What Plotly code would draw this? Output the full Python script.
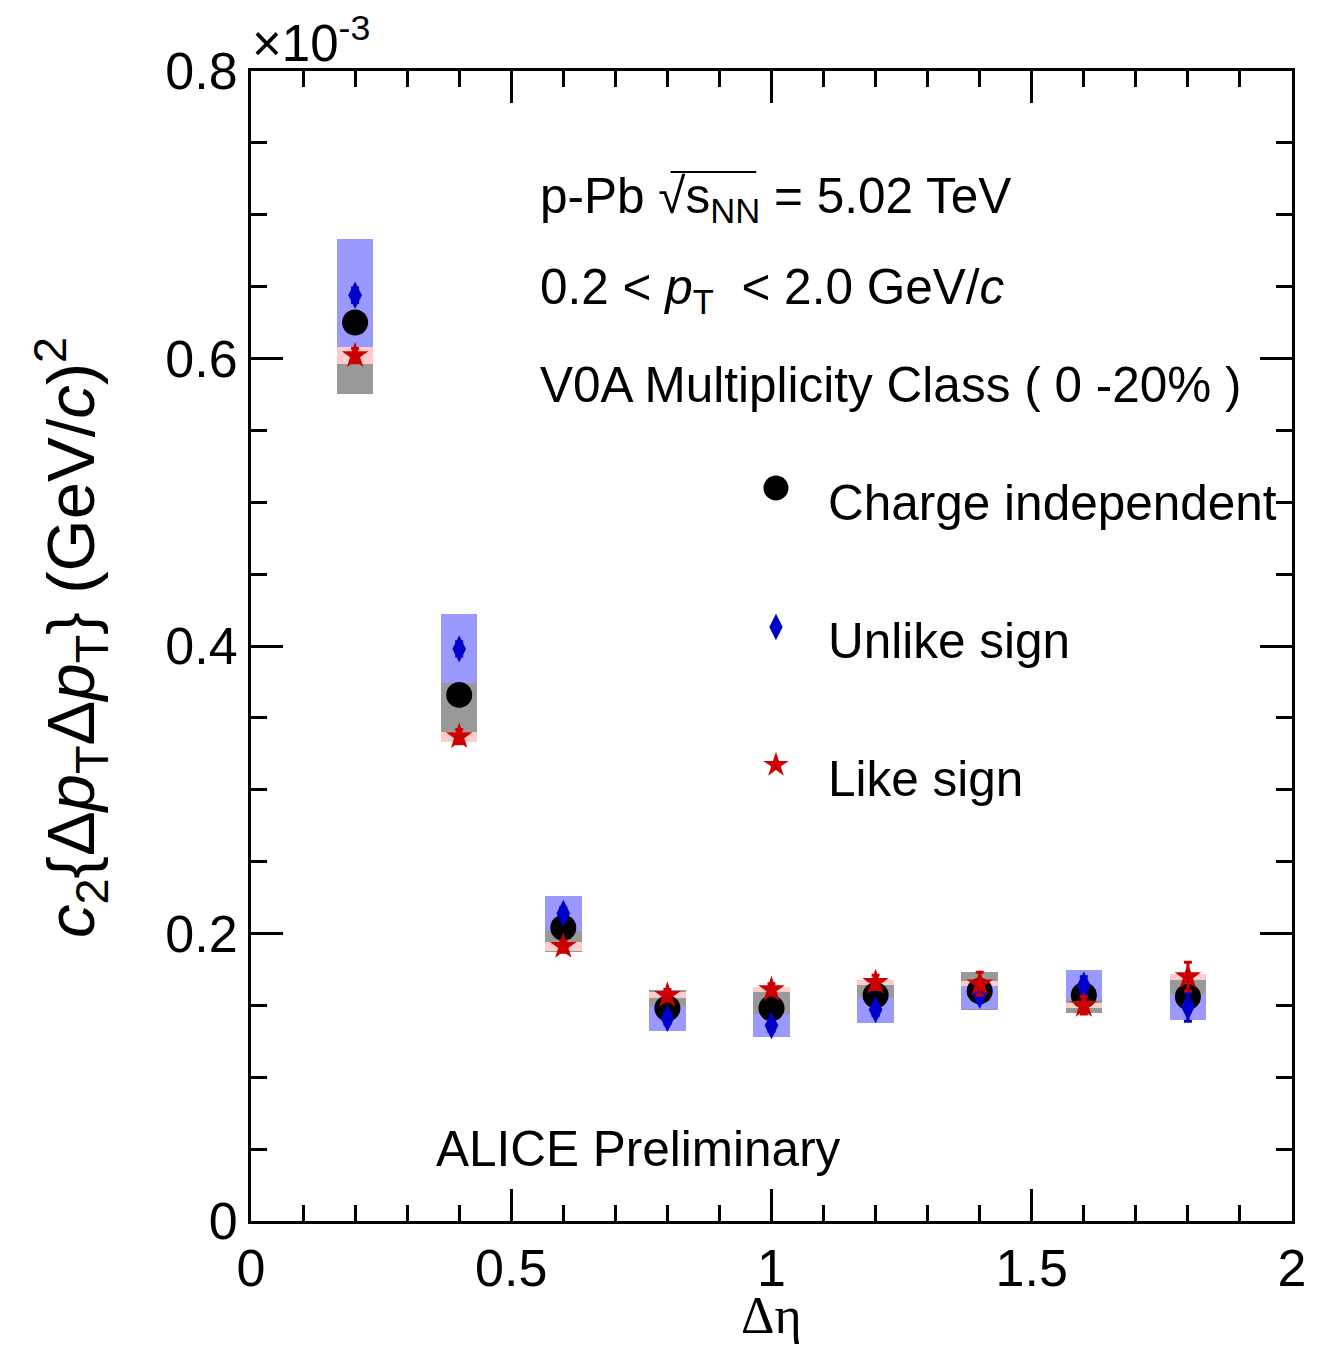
import plotly.graph_objects as go

# ---------------- data (c2 values in units of 1e-3 (GeV/c)^2) ----------------
deta = [0.2, 0.4, 0.6, 0.8, 1.0, 1.2, 1.4, 1.6, 1.8]

ci_val = [0.625, 0.366, 0.204, 0.148, 0.148, 0.157, 0.160, 0.157, 0.156]
ci_sys = [0.050, 0.029, 0.017, 0.0125, 0.011, 0.009, 0.013, 0.0125, 0.0125]
ci_stat = [0.004, 0.004, 0.003, 0.003, 0.003, 0.003, 0.004, 0.004, 0.005]

us_val = [0.644, 0.398, 0.214, 0.141, 0.136, 0.147, 0.157, 0.164, 0.149]
us_sys = [0.039, 0.024, 0.012, 0.0087, 0.0083, 0.009, 0.0097, 0.0104, 0.009]
us_stat = [0.005, 0.005, 0.004, 0.004, 0.004, 0.004, 0.005, 0.006, 0.010]

ls_val = [0.602, 0.337, 0.191, 0.157, 0.161, 0.166, 0.165, 0.150, 0.170]
ls_sys = [0.006, 0.0035, 0.003, 0.002, 0.0017, 0.0017, 0.0017, 0.0017, 0.002]
ls_stat = [0.005, 0.005, 0.004, 0.004, 0.004, 0.005, 0.008, 0.006, 0.010]

series_names = ["Charge independent", "Unlike sign", "Like sign"]
x_ticks = [0, 0.5, 1, 1.5, 2]
x_ticklabels = ["0", "0.5", "1", "1.5", "2"]
y_ticks = [0, 0.2, 0.4, 0.6, 0.8]
y_ticklabels = ["0", "0.2", "0.4", "0.6", "0.8"]

# ---------------- layout geometry ----------------
W, H = 1318, 1346
ML, MR, MT, MB = 251, 20, 71, 125
PW, PH = W - ML - MR, H - MT - MB
FONT = "Liberation Sans, Arial, Helvetica, sans-serif"
FS = 49.5
TICK_FS = 52


def px(x):
    return (x - ML) / PW


def py(y):
    return (H - MB - y) / PH


BOX_HALF_W = 0.035
C_GRAY, C_BLUEBOX, C_PINK = "#999999", "#9999ff", "#ffcccc"
C_BLUE, C_RED = "#0000cc", "#cc0000"

fig = go.Figure()


def sys_box(vals, errs, color):
    fig.add_trace(go.Bar(
        x=deta, y=[2 * e for e in errs], base=[v - e for v, e in zip(vals, errs)],
        width=2 * BOX_HALF_W, marker=dict(color=color, line=dict(width=0)),
        opacity=1, showlegend=False, hoverinfo="skip"))


sys_box(ci_val, ci_sys, C_GRAY)
sys_box(us_val, us_sys, C_BLUEBOX)
sys_box(ls_val, ls_sys, C_PINK)


def points(vals, stat, color, symbol, size):
    fig.add_trace(go.Scatter(
        x=deta, y=vals, mode="markers",
        marker=dict(color=color, symbol=symbol, size=size, opacity=1, line=dict(width=0)),
        error_y=dict(type="data", array=stat, color=color, thickness=3, width=4),
        showlegend=False, hoverinfo="skip"))


points(ci_val, ci_stat, "black", "circle", 26)
points(us_val, us_stat, C_BLUE, "diamond-tall", 19.5)
points(ls_val, ls_stat, C_RED, "star", 20)

# legend markers on an invisible overlay axis spanning the plot area (0..1)
leg_px_x = 779
leg_px_y = [488, 627, 765]
leg_txt_y = [502, 640, 778]
fig.add_trace(go.Scatter(
    x=[px(leg_px_x)] * 3, y=[py(v) for v in leg_px_y], xaxis="x2", yaxis="y2",
    mode="markers",
    marker=dict(color=["black", C_BLUE, C_RED], symbol=["circle", "diamond-tall", "star"],
                size=[25, 19, 19], opacity=1, line=dict(width=0)),
    showlegend=False, hoverinfo="skip", cliponaxis=False))

axis_common = dict(
    showline=True, linewidth=3, linecolor="black", mirror="allticks",
    ticks="inside", ticklen=32, tickwidth=3, tickcolor="black",
    showgrid=False, zeroline=False,
    tickfont=dict(family=FONT, size=TICK_FS, color="black"),
)

fig.update_layout(
    width=W, height=H,
    margin=dict(l=ML, r=MR, t=MT, b=MB, pad=0),
    paper_bgcolor="white", plot_bgcolor="white",
    barmode="overlay", bargap=0,
    showlegend=False,
    xaxis=dict(range=[0, 2], tickvals=x_ticks, ticktext=x_ticklabels,
               minor=dict(dtick=0.1, ticklen=16, tickwidth=3, tickcolor="black", ticks="inside"),
               **axis_common),
    yaxis=dict(range=[0, 0.8], tickvals=y_ticks, ticktext=y_ticklabels,
               minor=dict(dtick=0.05, ticklen=16, tickwidth=3, tickcolor="black", ticks="inside"),
               **axis_common),
    xaxis2=dict(range=[0, 1], overlaying="x", visible=False, fixedrange=True),
    yaxis2=dict(range=[0, 1], overlaying="y", visible=False, fixedrange=True),
)

ann = []


def text(x, y, s, size=FS, xanchor="left", family=FONT, angle=0, yanchor="middle"):
    ann.append(dict(x=px(x), y=py(y), xref="paper", yref="paper", text=s, showarrow=False,
                    xanchor=xanchor, yanchor=yanchor, textangle=angle,
                    font=dict(family=family, size=size, color="black")))


text(540, 199, "p-Pb √s<sub>NN</sub> = 5.02 TeV")
text(540, 290, "0.2 &lt; <i>p</i><sub>T</sub>&nbsp; &lt; 2.0 GeV/<i>c</i>")
text(540, 384, "V0A Multiplicity Class ( 0 -20% )")
for name, yy in zip(series_names, leg_txt_y):
    text(829, yy, name)
text(435, 1148, "ALICE Preliminary")
text(250, 40, "×10<sup>-3</sup>", size=51)
text(775, 1346, "Δη", size=52, xanchor="center", yanchor="bottom",
     family="Liberation Serif, Times New Roman, serif")
text(70, 638, "<i>c</i><sub>2</sub>{Δ<i>p</i><sub>T</sub>Δ<i>p</i><sub>T</sub>} (GeV/<i>c</i>)<sup>2</sup>",
     size=67, xanchor="center", angle=-90)

fig.update_layout(annotations=ann)

# overline of the square root sign
fig.add_shape(type="line", xref="paper", yref="paper",
              x0=px(673), x1=px(759), y0=py(172), y1=py(172),
              line=dict(color="black", width=2))

fig.write_html("out.html")
